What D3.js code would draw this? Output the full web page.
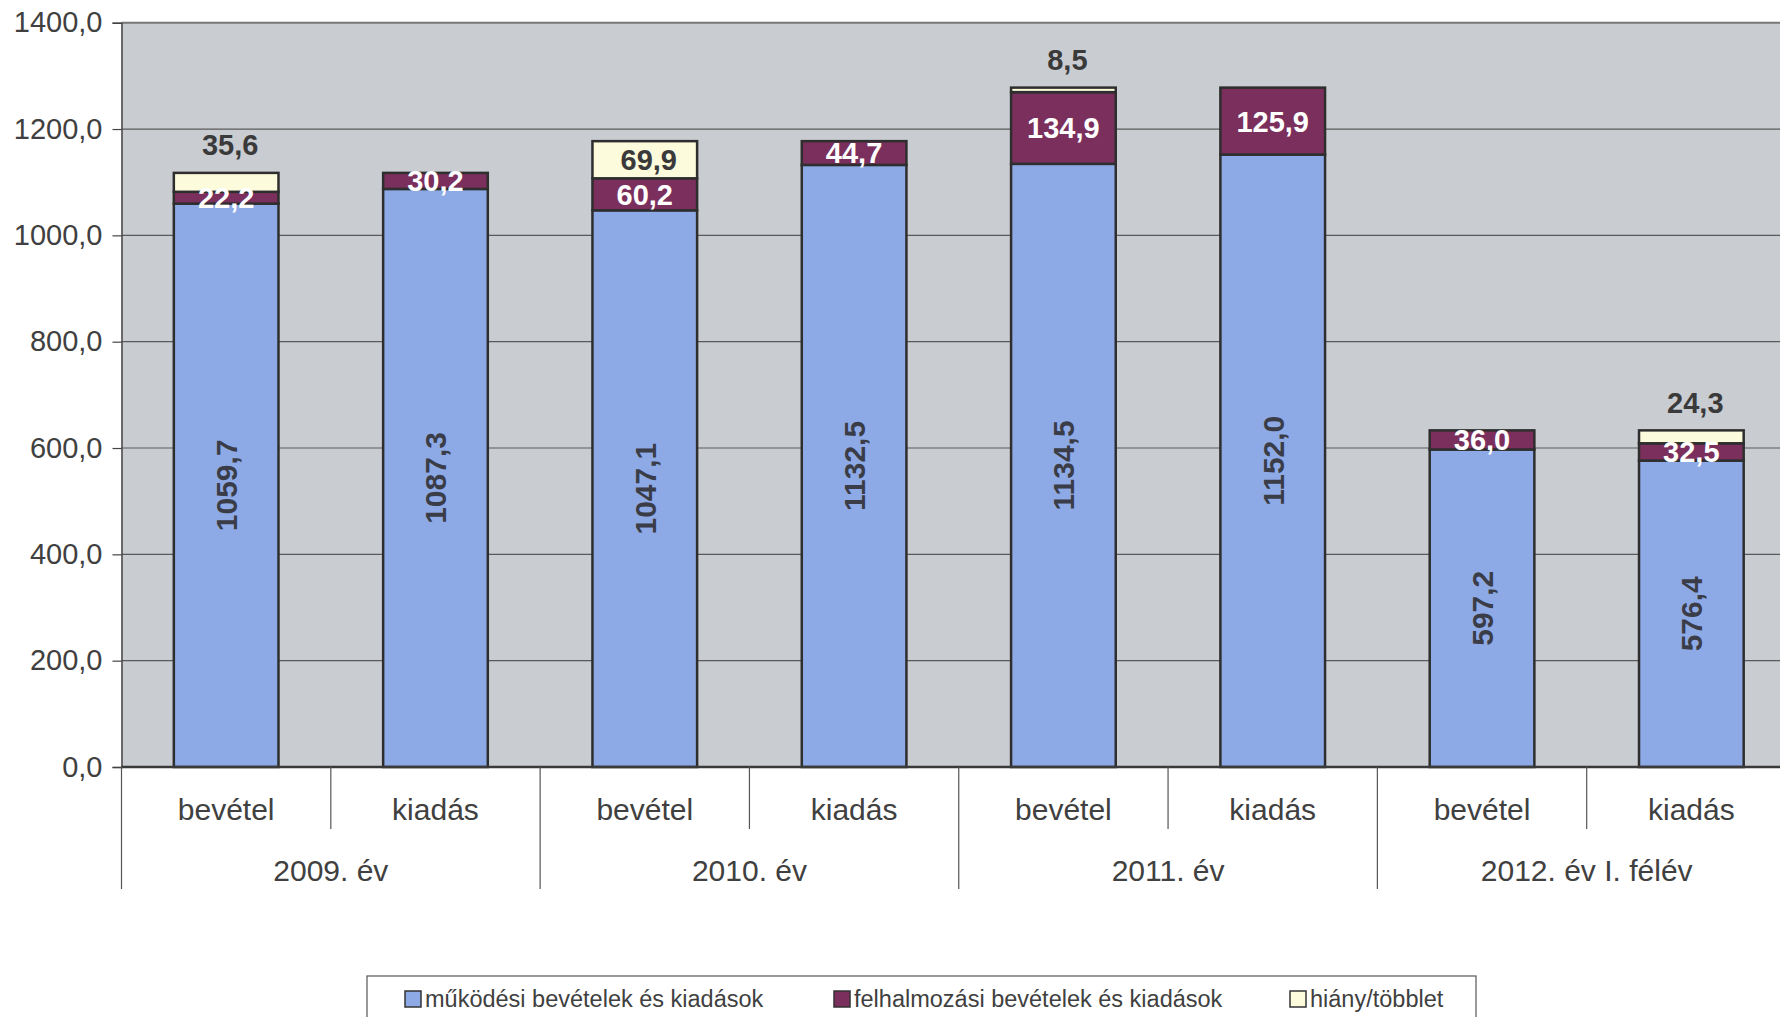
<!DOCTYPE html>
<html>
<head>
<meta charset="utf-8">
<script src="https://cdn.jsdelivr.net/npm/d3@7"></script>
<style>
  body { margin: 0; background: #fff; overflow: hidden; }
  svg { display: block; font-family: "Liberation Sans", Arial, sans-serif; }
</style>
</head>
<body>
<svg id="chart" width="1780" height="1017"></svg>
<script>
// data
let years = ["2009. év", "2010. év", "2011. év", "2012. év I. félév"];
let kinds = ["bevétel", "kiadás"];
let mukodesi = [1059.7, 1087.3, 1047.1, 1132.5, 1134.5, 1152.0, 597.2, 576.4];
let felhalmozasi = [22.2, 30.2, 60.2, 44.7, 134.9, 125.9, 36.0, 32.5];
let hiany = [35.6, 0, 69.9, 0, 8.5, 0, 0, 24.3];
let yTicks = [0, 200, 400, 600, 800, 1000, 1200, 1400];
let seriesNames = ["működési bevételek és kiadások", "felhalmozási bevételek és kiadások", "hiány/többlet"];
let colors = ["#8eaae6", "#7b2f5c", "#fcfbdc"];

let plotLeft = 121.5, plotRight = 1796, plotTop = 22.7, plotBottom = 767;

let svg = d3.select("#chart");

// one entry per bar
let cats = [];
years.forEach(function(yr, i) {
    kinds.forEach(function(k, j) { cats.push(i * 2 + j); });
});
let rows = cats.map(function(i) {
    return { id: i, mukodesi: mukodesi[i], felhalmozasi: felhalmozasi[i], hiany: hiany[i] };
});

let x = d3.scaleBand()
    .domain(cats)
    .range([plotLeft, plotRight])
    .paddingInner(0.5)
    .paddingOuter(0.25);

let y = d3.scaleLinear()
    .domain([0, 1400])
    .range([plotBottom, plotTop]);

let step = x.step();

// plot background
svg.append("rect")
    .attr("x", plotLeft).attr("y", plotTop)
    .attr("width", plotRight - plotLeft).attr("height", plotBottom - plotTop)
    .attr("fill", "#c9ccd1");

// gridlines
svg.append("g")
    .selectAll("line")
    .data(yTicks)
    .join("line")
    .attr("x1", plotLeft).attr("x2", plotRight)
    .attr("y1", d => y(d)).attr("y2", d => y(d))
    .attr("stroke", d => d == 1400 ? "#777" : "#5a5a5a")
    .attr("stroke-width", d => d == 1400 ? 2 : 1.2);

// y axis
let yAxis = svg.append("g")
    .attr("transform", `translate(${plotLeft},0)`)
    .call(d3.axisLeft(y).tickValues(yTicks).tickSize(9).tickPadding(10)
        .tickFormat(d => d3.format(".1f")(d).replace(".", ",")));
yAxis.select(".domain").attr("stroke", "#444").attr("stroke-width", 1.5);
yAxis.selectAll(".tick line").attr("stroke", "#444").attr("stroke-width", 1.2);
yAxis.selectAll(".tick text")
    .attr("fill", "#404040")
    .style("font-size", "29px")
    .style("font-family", "'Liberation Sans', Arial, sans-serif");

// stacked bars
let keys = ["mukodesi", "felhalmozasi", "hiany"];
let stack = d3.stack().keys(keys)(rows);

svg.append("g")
    .selectAll("g")
    .data(stack)
    .join("g")
    .attr("fill", (d, i) => colors[i])
    .selectAll("rect")
    .data(d => d.filter(p => p[1] - p[0] > 0))
    .join("rect")
    .attr("x", d => x(d.data.id))
    .attr("width", x.bandwidth())
    .attr("y", d => y(d[1]))
    .attr("height", d => y(d[0]) - y(d[1]))
    .attr("stroke", "#2e2e2e")
    .attr("stroke-width", 2.5);

// x axis baseline
svg.append("line")
    .attr("x1", plotLeft).attr("x2", plotRight)
    .attr("y1", plotBottom).attr("y2", plotBottom)
    .attr("stroke", "#3a3a3a").attr("stroke-width", 2.5);

let fmt = v => d3.format(".1f")(v).replace(".", ",");

let labels = svg.append("g")
    .style("font-weight", "bold")
    .style("font-size", "29px")
    .attr("text-anchor", "middle");

// blue values, rotated
labels.selectAll("text.mk")
    .data(stack[0])
    .join("text")
    .attr("class", "mk")
    .attr("transform", d => `translate(${x(d.data.id) + x.bandwidth() / 2},${y((d[0] + d[1]) / 2)}) rotate(-90)`)
    .attr("dy", "0.36em")
    .attr("fill", "#3a3d48")
    .style("font-size", "30px")
    .text(d => fmt(d[1] - d[0]));

// purple values
labels.selectAll("text.fh")
    .data(stack[1])
    .join("text")
    .attr("class", "fh")
    .attr("x", d => x(d.data.id) + x.bandwidth() / 2)
    .attr("y", d => y((d[0] + d[1]) / 2))
    .attr("dy", "0.36em")
    .attr("fill", "#fff")
    .text(d => fmt(d[1] - d[0]));

// hiány values: inside when big enough, else above the bar
labels.selectAll("text.hi")
    .data(stack[2].filter(d => d[1] - d[0] > 0))
    .join("text")
    .attr("class", "hi")
    .attr("x", d => x(d.data.id) + x.bandwidth() / 2 + 4)
    .attr("y", d => (d[1] - d[0]) > 50 ? y((d[0] + d[1]) / 2) : y(d[1]) - 28)
    .attr("dy", "0.36em")
    .attr("fill", "#3a3a3a")
    .text(d => fmt(d[1] - d[0]));

// category dividers
let divs = d3.range(cats.length + 1);
svg.append("g")
    .selectAll("line")
    .data(divs)
    .join("line")
    .attr("x1", i => plotLeft + i * step).attr("x2", i => plotLeft + i * step)
    .attr("y1", plotBottom)
    .attr("y2", i => i % 2 == 0 ? 889 : 829)
    .attr("stroke", "#555")
    .attr("stroke-width", 1.2);

// sub category labels
svg.append("g")
    .selectAll("text")
    .data(cats)
    .join("text")
    .attr("x", d => x(d) + x.bandwidth() / 2)
    .attr("y", 820)
    .attr("text-anchor", "middle")
    .attr("fill", "#404040")
    .style("font-size", "30px")
    .text(d => kinds[d % 2]);

// year labels
svg.append("g")
    .selectAll("text")
    .data(years)
    .join("text")
    .attr("x", (d, i) => plotLeft + (i * 2 + 1) * step)
    .attr("y", 881)
    .attr("text-anchor", "middle")
    .attr("fill", "#404040")
    .style("font-size", "30px")
    .text(d => d);

// legend
let legend = svg.append("g");
legend.append("rect")
    .attr("x", 367).attr("y", 976)
    .attr("width", 1109).attr("height", 70)
    .attr("fill", "#fff").attr("stroke", "#555").attr("stroke-width", 1.2);

let legX = [405, 834, 1290];
let item = legend.selectAll("g")
    .data(seriesNames)
    .join("g")
    .attr("transform", (d, i) => `translate(${legX[i]},999)`);
item.append("rect")
    .attr("x", 0).attr("y", -8)
    .attr("width", 16).attr("height", 16)
    .attr("fill", (d, i) => colors[i])
    .attr("stroke", "#333").attr("stroke-width", 1.5);
item.append("text")
    .attr("x", 20).attr("dy", "0.36em")
    .attr("fill", "#404040")
    .style("font-size", "23.5px")
    .text(d => d);
</script>
</body>
</html>
